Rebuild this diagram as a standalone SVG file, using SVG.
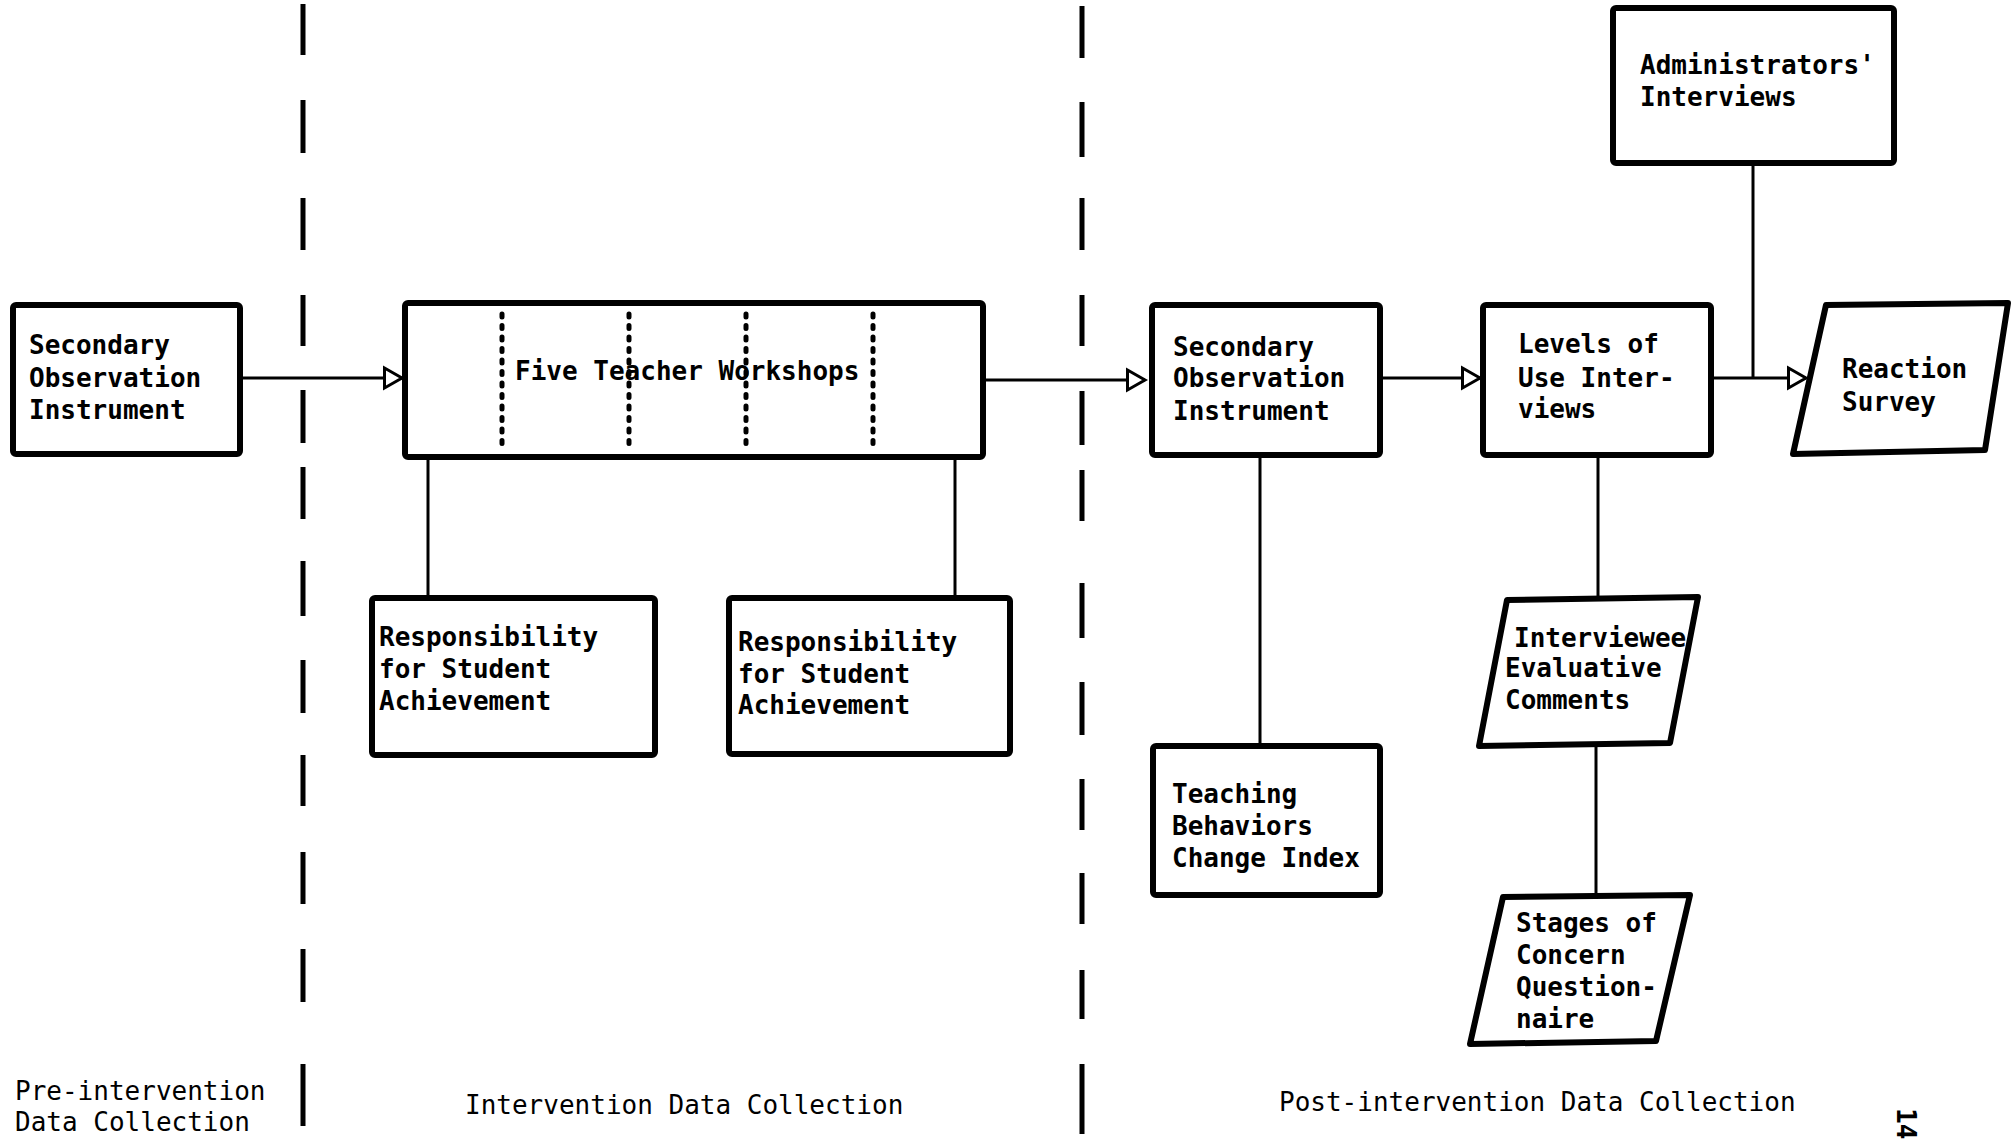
<svg xmlns="http://www.w3.org/2000/svg" width="2012" height="1143" viewBox="0 0 2012 1143">
<style>
  .box { fill: #fff; stroke: #000; stroke-width: 6; stroke-linejoin: round; }
  .conn { fill: none; stroke: #000; stroke-width: 3; }
  .arrow { fill: none; stroke: #000; stroke-width: 3; marker-end: url(#tri); }
  .phase { fill: none; stroke: #000; stroke-width: 5; }
  .sub { fill: none; stroke: #000; stroke-width: 5; stroke-linecap: round; stroke-dasharray: 3 8.5; }
  .lbl { font-family: "DejaVu Sans Mono", "Liberation Mono", monospace; font-weight: bold; font-size: 26px; fill: #000; }
  .cap { font-family: "DejaVu Sans Mono", "Liberation Mono", monospace; font-weight: normal; font-size: 26px; fill: #000; }
</style>
<defs>
  <marker id="tri" markerUnits="userSpaceOnUse" markerWidth="24" markerHeight="26" refX="19" refY="11" orient="auto" overflow="visible">
    <path d="M1.5,1 L19,11 L1.5,21 Z" fill="#fff" stroke="#000" stroke-width="3" stroke-linejoin="miter"/>
  </marker>
</defs>
<rect width="2012" height="1143" fill="#fff"/>

<g id="phase-dividers">
  <path class="phase" d="M303,4V55M303,100V153M303,198V250M303,295V346M303,390V443M303,467V519M303,561V616M303,660V713M303,755V806M303,852V904M303,949V1002M303,1064V1126"/>
  <path class="phase" d="M1082,6V58M1082,102V157M1082,198V250M1082,295V346M1082,391V445M1082,470V521M1082,583V638M1082,682V735M1082,779V830M1082,873V924M1082,970V1019M1082,1064V1134"/>
</g>

<g id="connectors">
  <path class="arrow" d="M240,378H402"/>
  <path class="arrow" d="M983,380H1145"/>
  <path class="arrow" d="M1380,378H1480"/>
  <path class="arrow" d="M1711,378H1806"/>
  <path class="conn" d="M1753,163V378"/>
  <path class="conn" d="M428,457V599"/>
  <path class="conn" d="M955,457V599"/>
  <path class="conn" d="M1260,455V747"/>
  <path class="conn" d="M1598,455V599"/>
  <path class="conn" d="M1596,745V897"/>
</g>

<g id="pre-secondary-observation">
  <rect class="box" x="13" y="305" width="227" height="149" rx="3"/>
  <text class="lbl"><tspan x="29" y="354">Secondary</tspan><tspan x="29" y="387">Observation</tspan><tspan x="29" y="419">Instrument</tspan></text>
</g>

<g id="five-teacher-workshops">
  <rect class="box" x="405" y="303" width="578" height="154" rx="3"/>
  <path class="sub" d="M502,314V449M629,314V449M746,314V449M873,314V449"/>
  <text class="lbl" x="515" y="380">Five Teacher Workshops</text>
</g>

<g id="responsibility-1">
  <rect class="box" x="372" y="598" width="283" height="157" rx="3"/>
  <text class="lbl"><tspan x="379" y="646">Responsibility</tspan><tspan x="379" y="678">for Student</tspan><tspan x="379" y="710">Achievement</tspan></text>
</g>

<g id="responsibility-2">
  <rect class="box" x="729" y="598" width="281" height="156" rx="3"/>
  <text class="lbl"><tspan x="738" y="651">Responsibility</tspan><tspan x="738" y="683">for Student</tspan><tspan x="738" y="714">Achievement</tspan></text>
</g>

<g id="post-secondary-observation">
  <rect class="box" x="1152" y="305" width="228" height="150" rx="3"/>
  <text class="lbl"><tspan x="1173" y="356">Secondary</tspan><tspan x="1173" y="387">Observation</tspan><tspan x="1173" y="420">Instrument</tspan></text>
</g>

<g id="teaching-behaviors">
  <rect class="box" x="1153" y="746" width="227" height="149" rx="3"/>
  <text class="lbl"><tspan x="1172" y="803">Teaching</tspan><tspan x="1172" y="835">Behaviors</tspan><tspan x="1172" y="867">Change Index</tspan></text>
</g>

<g id="levels-of-use">
  <rect class="box" x="1483" y="305" width="228" height="150" rx="3"/>
  <text class="lbl"><tspan x="1518" y="353">Levels of</tspan><tspan x="1518" y="387">Use Inter-</tspan><tspan x="1518" y="418">views</tspan></text>
</g>

<g id="administrators-interviews">
  <rect class="box" x="1613" y="8" width="281" height="155" rx="3"/>
  <text class="lbl"><tspan x="1640" y="74">Administrators'</tspan><tspan x="1640" y="106">Interviews</tspan></text>
</g>

<g id="reaction-survey">
  <polygon class="box" points="1826,305 2008,303 1985,450 1793,454"/>
  <text class="lbl"><tspan x="1842" y="378">Reaction</tspan><tspan x="1842" y="411">Survey</tspan></text>
</g>

<g id="interviewee-comments">
  <polygon class="box" points="1507,600 1698,597 1670,743 1479,746"/>
  <text class="lbl"><tspan x="1514" y="647">Interviewee</tspan><tspan x="1505" y="677">Evaluative</tspan><tspan x="1505" y="709">Comments</tspan></text>
</g>

<g id="stages-of-concern">
  <polygon class="box" points="1503,897 1690,895 1656,1041 1470,1044"/>
  <text class="lbl"><tspan x="1516" y="932">Stages of</tspan><tspan x="1516" y="964">Concern</tspan><tspan x="1516" y="996">Question-</tspan><tspan x="1516" y="1028">naire</tspan></text>
</g>

<g id="phase-labels">
  <text class="cap"><tspan x="15" y="1100">Pre-intervention</tspan><tspan x="15" y="1131">Data Collection</tspan></text>
  <text class="cap" x="465" y="1114">Intervention Data Collection</text>
  <text class="cap" x="1279" y="1111">Post-intervention Data Collection</text>
  <text class="lbl" transform="translate(1897,1108) rotate(90)">14</text>
</g>
</svg>
